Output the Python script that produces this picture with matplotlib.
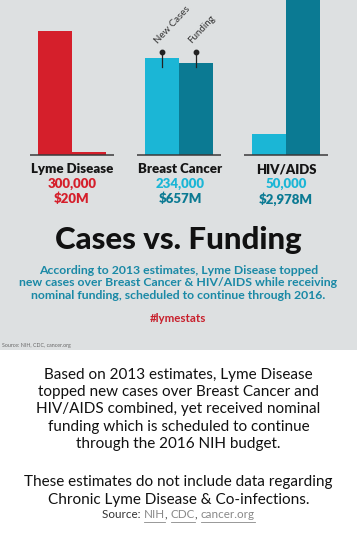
import matplotlib
matplotlib.use("Agg")
import matplotlib.pyplot as plt
from matplotlib.patches import Rectangle
from matplotlib.lines import Line2D
import matplotlib.transforms as mtransforms

plt.rcParams['font.family'] = ['Lato', 'DejaVu Sans']

# data
diseases = ["Lyme Disease", "Breast Cancer", "HIV/AIDS"]
new_cases = [300000, 234000, 50000]
funding_m = [20, 657, 2978]
case_labels = ["300,000", "234,000", "50,000"]
fund_labels = ["$20M", "$657M", "$2,978M"]

RED = "#d51f2b"
CYAN = "#1bb6d6"
TEAL = "#0b7a93"
BG = "#dde0e1"
W, H = 357, 539


def fy(py):
    # pixel row from top -> figure fraction
    return 1 - py / H


def fx(px):
    return px / W


fig = plt.figure(figsize=(W / 100, H / 100), dpi=100)
fig.patch.set_facecolor("white")
fig.patches.append(Rectangle((0, fy(350)), 1, 350 / H, transform=fig.transFigure,
                             facecolor=BG, edgecolor="none", zorder=-10))

# bar axes: cases on left scale, funding on twin scale
ax = fig.add_axes([0, fy(155), 1, 155 / H])
ax2 = ax.twinx()
for a in (ax, ax2):
    a.set_axis_off()
    a.patch.set_alpha(0)
ax.set_xlim(-0.673, 2.664)
ax.set_ylim(0, 375000)
ax2.set_ylim(0, 1107)

bw = 0.322
xs = list(range(len(diseases)))
case_colors = [RED, CYAN, CYAN]
fund_colors = [RED, TEAL, TEAL]
ax.bar([x - bw / 2 for x in xs], new_cases, width=bw, color=case_colors, zorder=2)
ax2.bar([x + bw / 2 for x in xs], funding_m, width=bw, color=fund_colors, zorder=2)
for x in xs:
    ax2.plot([x - 0.39, x + 0.39], [0, 0], color="#3a3a3a", lw=1.1, zorder=3,
             clip_on=False, solid_capstyle="butt")

# pins on the breast cancer bars
trans = mtransforms.blended_transform_factory(ax.transData, ax.transAxes)
for dx, label in [(-bw / 2, "New Cases"), (bw / 2, "Funding")]:
    px = 1 + dx
    ax2.plot([px, px], [0.568, 0.665], transform=trans, color="#222222", lw=0.9,
             zorder=5, clip_on=False)
    ax2.plot([px], [0.665], transform=trans, marker="o", ms=3.2, color="#222222",
             zorder=5, clip_on=False)
    ax2.text(px - 0.025, 0.71, label, transform=trans, rotation=47, fontsize=7,
             color="#333333", ha="left", va="bottom", rotation_mode="anchor",
             zorder=5)

# category labels
centers = [72, 180, 286]
for i, name in enumerate(diseases):
    cx = fx(centers[i])
    fig.text(cx, fy(169), name, ha="center", va="center", fontsize=9.5,
             fontweight="heavy", color="#151515")
    fig.text(cx, fy(184), case_labels[i], ha="center", va="center", fontsize=9.5,
             fontweight="heavy", color=case_colors[i])
    fig.text(cx, fy(199), fund_labels[i], ha="center", va="center", fontsize=9.5,
             fontweight="heavy", color=fund_colors[i])

fig.text(0.5, fy(240), "Cases vs. Funding", ha="center", va="center",
         fontsize=22.5, fontweight="black", color="#111111")
para = ("According to 2013 estimates, Lyme Disease topped\n"
        "new cases over Breast Cancer & HIV/AIDS while receiving\n"
        "nominal funding, scheduled to continue through 2016.")
fig.text(0.5, fy(283), para, ha="center", va="center", fontsize=8.8,
         fontweight="bold", color="#1a89a6", linespacing=1.2)
fig.text(0.5, fy(318), "#lymestats", ha="center", va="center", fontsize=8.3,
         fontweight="bold", color="#c8202c")
fig.text(fx(2), fy(346), "Source: NIH, CDC, cancer.org", ha="left", va="center",
         fontsize=3.8, color="#666666")

body = ("Based on 2013 estimates, Lyme Disease\n"
        "topped new cases over Breast Cancer and\n"
        "HIV/AIDS combined, yet received nominal\n"
        "funding which is scheduled to continue\n"
        "through the 2016 NIH budget.")
fig.text(0.5, fy(409.5), body, ha="center", va="center", fontsize=11,
         color="#111111", linespacing=1.3)
note = ("These estimates do not include data regarding\n"
        "Chronic Lyme Disease & Co-infections.")
fig.text(0.5, fy(491), note, ha="center", va="center", fontsize=11,
         color="#111111", linespacing=1.3)

# source line with underlined links
renderer = fig.canvas.get_renderer()
parts = [("Source: ", "#333333", False), ("NIH", "#888888", True), (", ", "#333333", False),
         ("CDC", "#888888", True), (", ", "#333333", False), ("cancer.org", "#888888", True)]
fs = 8.4
widths = []
for s, c, u in parts:
    t = fig.text(0, 0, s, fontsize=fs)
    widths.append(t.get_window_extent(renderer).width / W)
    t.remove()
x0 = 0.5 - sum(widths) / 2
for (s, c, u), w in zip(parts, widths):
    fig.text(x0, fy(515), s, ha="left", va="center", fontsize=fs, color=c)
    if u:
        fig.lines.append(Line2D([x0, x0 + w], [fy(521.5), fy(521.5)], transform=fig.transFigure,
                                color=c, lw=0.6))
    x0 += w

fig.savefig("out.png", dpi=100, facecolor="white")
